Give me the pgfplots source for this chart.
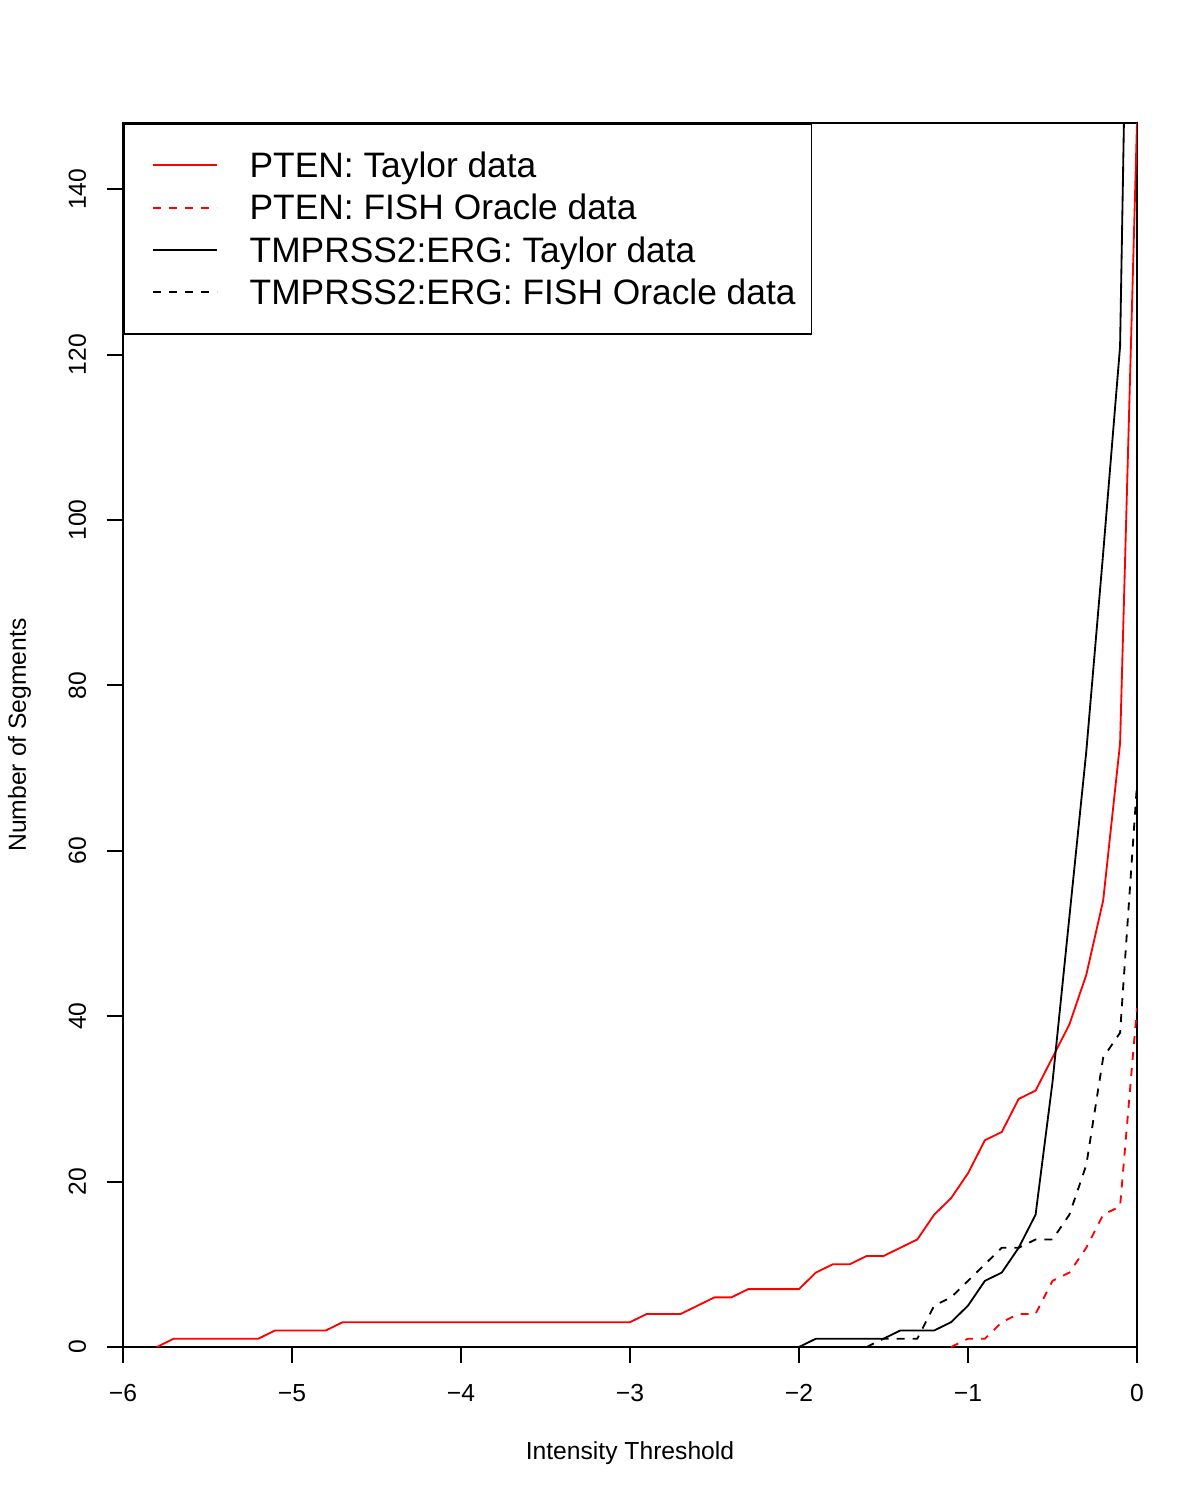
\documentclass[border=0pt]{standalone}
\usepackage{pgfplots}
\pgfplotsset{compat=1.18}
\usepackage{fontspec}
\setmainfont{Liberation Sans}
\begin{document}
\begin{tikzpicture}
\useasboundingbox (-36.9pt,-45.9pt) rectangle (323.1pt,404.1pt);
\begin{axis}[
  at={(0,0)}, anchor=south west,
  scale only axis,
  width=304.2pt, height=367.2pt,
  xmin=-6, xmax=0, ymin=0, ymax=148,
  axis line style={line width=0.6pt},
  tick style={line width=0.6pt, black},
  tick align=outside,
  major tick length=4.8pt,
  xtick pos=left, ytick pos=left,
  xtick={-6,-5,-4,-3,-2,-1,0},
  xticklabels={−6,−5,−4,−3,−2,−1,0},
  ytick={0,20,40,60,80,100,120,140},
  /pgf/number format/assume math mode=true,
  tick label style={font=\fontsize{7.4}{8.9}\selectfont, inner sep=0pt},
  xticklabel style={anchor=north},
  xticklabel shift=6.2pt,
  yticklabel style={rotate=90, anchor=south},
  yticklabel shift=6.1pt,
  xlabel={Intensity Threshold},
  ylabel={Number of Segments},
  label style={font=\fontsize{7.4}{8.9}\selectfont, inner sep=0pt},
  xlabel style={at={(axis description cs:0.5,-0.0915)}, anchor=base},
  ylabel style={at={(axis description cs:-0.0957,0.5)}, anchor=base, rotate=0},
  legend style={at={(0,1)}, anchor=north west, draw=black, line width=0.5pt,
    fill=none, font=\fontsize{10.6}{12}\selectfont,
    inner xsep=4.8pt, inner ysep=7.2pt, row sep=2.2pt, column sep=9.6pt,
    nodes={inner sep=0pt, text height=8.9pt, text depth=1.6pt}},
  legend cell align=left,
  legend image code/.code={\path (0pt,0pt); \draw[#1] (3.6pt,0pt) -- (22.8pt,0pt);},
]
\addplot[red, line width=0.55pt] coordinates {
(-5.8,0) (-5.7,1) (-5.6,1) (-5.5,1) (-5.4,1) (-5.3,1) (-5.2,1) (-5.1,2) (-5.0,2) (-4.9,2) (-4.8,2)
(-4.7,3) (-4.6,3) (-4.5,3) (-4.4,3) (-4.3,3) (-4.2,3) (-4.1,3) (-4.0,3) (-3.9,3) (-3.8,3) (-3.7,3)
(-3.6,3) (-3.5,3) (-3.4,3) (-3.3,3) (-3.2,3) (-3.1,3) (-3.0,3) (-2.9,4) (-2.8,4) (-2.7,4) (-2.6,5)
(-2.5,6) (-2.4,6) (-2.3,7) (-2.2,7) (-2.1,7) (-2.0,7) (-1.9,9) (-1.8,10) (-1.7,10) (-1.6,11) (-1.5,11)
(-1.4,12) (-1.3,13) (-1.2,16) (-1.1,18) (-1.0,21) (-0.9,25) (-0.8,26) (-0.7,30) (-0.6,31) (-0.5,35)
(-0.4,39) (-0.3,45) (-0.2,54) (-0.1,73) (0,148)
};
\addlegendentry{PTEN: Taylor data}
\addplot[red, line width=0.55pt, dash pattern=on 2.4pt off 2.4pt] coordinates {
(-1.1,0) (-1.0,1) (-0.9,1) (-0.8,3) (-0.7,4) (-0.6,4) (-0.5,8) (-0.4,9) (-0.3,12) (-0.2,16) (-0.1,17) (0,41)
};
\addlegendentry{PTEN: FISH Oracle data}
\addplot[black, line width=0.55pt] coordinates {
(-2.0,0) (-1.9,1) (-1.8,1) (-1.7,1) (-1.6,1) (-1.5,1) (-1.4,2) (-1.3,2) (-1.2,2) (-1.1,3) (-1.0,5)
(-0.9,8) (-0.8,9) (-0.7,12) (-0.6,16) (-0.5,32) (-0.4,52) (-0.3,72) (-0.2,96) (-0.1,121) (0,240)
};
\addlegendentry{TMPRSS2:ERG: Taylor data}
\addplot[black, line width=0.55pt, dash pattern=on 2.4pt off 2.4pt] coordinates {
(-1.6,0) (-1.5,1) (-1.4,1) (-1.3,1) (-1.2,5) (-1.1,6) (-1.0,8) (-0.9,10) (-0.8,12) (-0.7,12)
(-0.6,13) (-0.5,13) (-0.4,16) (-0.3,22) (-0.2,35) (-0.1,38) (0,68)
};
\addlegendentry{TMPRSS2:ERG: FISH Oracle data}
\end{axis}
\end{tikzpicture}
\end{document}
